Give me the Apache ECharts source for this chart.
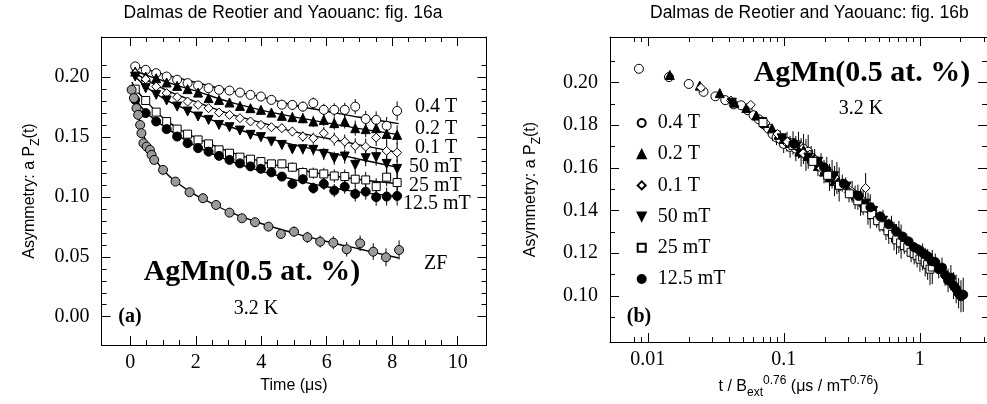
<!DOCTYPE html>
<html><head><meta charset="utf-8">
<script src="https://cdn.jsdelivr.net/npm/echarts@6/dist/echarts.min.js"></script>
<style>html,body{margin:0;padding:0;background:#fff}#c{width:987px;height:404px}</style>
</head><body><div id="c"></div>
<script>
// ---------------- data ----------------
const fieldNames = ['0.4 T', '0.2 T', '0.1 T', '50 mT', '25 mT', '12.5 mT'];
// panel (a): time grid of the field series (µs)
const fieldT = [0.15,0.47,0.79,1.11,1.43,1.75,2.07,2.39,2.71,3.03,3.35,3.67,3.99,4.31,4.63,4.95,5.27,5.59,5.91,6.23,6.55,6.87,7.19,7.51,7.83,8.15];
const y04  = [0.209,0.2061,0.2033,0.2005,0.1978,0.195,0.193,0.1908,0.1894,0.1888,0.1871,0.1852,0.1838,0.181,0.177,0.1768,0.1754,0.1783,0.1727,0.1727,0.1727,0.1754,0.1651,0.1643,0.1593,0.1718];
const y02  = [0.2047,0.2005,0.1991,0.1955,0.1927,0.19,0.1871,0.1825,0.181,0.1788,0.176,0.1741,0.1727,0.1704,0.1677,0.1666,0.1657,0.163,0.1643,0.1616,0.163,0.1574,0.1566,0.1574,0.1526,0.1518];
const y01  = [0.2033,0.1983,0.1921,0.1866,0.1833,0.1796,0.1769,0.1741,0.1704,0.1685,0.1657,0.163,0.1601,0.1582,0.1574,0.1546,0.1504,0.149,0.1532,0.1482,0.1462,0.1426,0.142,0.1495,0.1384,0.137];
const y50  = [0.2005,0.1908,0.1852,0.1805,0.1754,0.1713,0.1671,0.1643,0.1601,0.1582,0.1554,0.1518,0.1499,0.1462,0.1434,0.1398,0.1398,0.1393,0.1359,0.1323,0.1337,0.1267,0.1323,0.1332,0.1276,0.1234];
const y25  = [0.19,0.1805,0.1708,0.1629,0.1566,0.1524,0.1476,0.1443,0.1393,0.1365,0.1332,0.1315,0.1295,0.1276,0.1276,0.1248,0.1204,0.1198,0.1192,0.1175,0.117,0.1148,0.1142,0.1086,0.1165,0.112];
const y125 = [0.181,0.17,0.163,0.1566,0.1504,0.1449,0.1407,0.1378,0.1343,0.1309,0.128,0.1255,0.1235,0.1205,0.117,0.1109,0.1148,0.1073,0.1109,0.1053,0.1086,0.1025,0.1044,0.0998,0.1003,0.1008];
const fieldErr = [0.0008,0.0009,0.001,0.0011,0.0013,0.0014,0.0016,0.0018,0.002,0.0022,0.0024,0.0027,0.003,0.0033,0.0036,0.004,0.0043,0.0047,0.0051,0.0055,0.0059,0.0063,0.0067,0.0071,0.0075,0.008];
// zero field
const zfT = [0.04,0.11,0.19,0.24,0.30,0.34,0.40,0.50,0.60,0.65,0.73,1.00,1.38,1.81,2.22,2.62,3.03,3.41,3.81,4.22,4.60,5.00,5.41,5.80,6.20,6.61,7.02,7.42,7.81,8.21];
const zfY = [0.1894,0.1825,0.1741,0.1685,0.1601,0.1532,0.1449,0.142,0.1393,0.1351,0.1309,0.1226,0.1128,0.1039,0.0989,0.0933,0.0869,0.0822,0.0789,0.0752,0.0691,0.071,0.0663,0.0627,0.0618,0.0563,0.0613,0.0543,0.0496,0.0557];
const zfErr = [0.0005,0.0005,0.0005,0.0006,0.0006,0.0006,0.0007,0.0007,0.0008,0.0008,0.0009,0.001,0.0012,0.0014,0.0017,0.002,0.0023,0.0026,0.003,0.0034,0.0038,0.0042,0.0046,0.005,0.0055,0.006,0.0065,0.007,0.0075,0.008];
// fitted curves
const fitT   = [0.05,0.15,0.5,1,1.5,2,3,4,5,6,7,8.2];
const fit04  = [0.2105,0.209,0.2065,0.2025,0.199,0.1955,0.189,0.1835,0.1765,0.1715,0.1665,0.1612];
const fit02  = [0.2075,0.2055,0.2015,0.197,0.1925,0.1885,0.1795,0.1725,0.1668,0.1618,0.157,0.152];
const fit01  = [0.2065,0.2035,0.1975,0.1905,0.1845,0.1795,0.1695,0.162,0.1545,0.149,0.1435,0.137];
const fit50  = [0.204,0.2005,0.1915,0.1825,0.1755,0.1695,0.159,0.1505,0.1435,0.1375,0.1315,0.1245];
const fit25  = [0.196,0.1905,0.1795,0.166,0.1565,0.1495,0.138,0.1295,0.1235,0.1185,0.1145,0.111];
const fit125 = [0.189,0.182,0.17,0.1595,0.1505,0.1425,0.1305,0.1215,0.1145,0.1085,0.104,0.1003];
const zfFitT = [0.02,0.1,0.2,0.3,0.4,0.6,0.8,1.0,1.4,2,2.5,3,4,5,6,7,8.2];
const zfFitY = [0.191,0.182,0.172,0.162,0.152,0.139,0.13,0.1225,0.1125,0.1015,0.0945,0.0878,0.0778,0.0698,0.0628,0.0565,0.049];
// panel (b): scaled abscissa t / B^0.76 and asymmetry
const bx04  = [0.0086,0.0143,0.0200,0.0257,0.0314,0.0371,0.0428,0.0485,0.0542,0.0599,0.0656,0.0713,0.0770,0.0827,0.0884,0.0941,0.0998,0.1055,0.1112,0.1169,0.1226,0.1283,0.1340,0.1397,0.1454,0.1511];
const bx02  = [0.0145,0.0241,0.0338,0.0434,0.0530,0.0627,0.0723,0.0819,0.0915,0.1012,0.1108,0.1204,0.1301,0.1397,0.1493,0.1590,0.1686,0.1782,0.1878,0.1975,0.2071,0.2167,0.2264,0.2360,0.2456,0.2553];
const bx01  = [0.0246,0.0409,0.0572,0.0735,0.0898,0.1061,0.1224,0.1387,0.1550,0.1713,0.1876,0.2039,0.2202,0.2365,0.2528,0.2691,0.2854,0.3017,0.3180,0.3343,0.3506,0.3669,0.3832,0.3995,0.4158,0.4321];
const bx50  = [0.0415,0.0690,0.0965,0.1240,0.1515,0.1790,0.2065,0.2340,0.2615,0.2890,0.3165,0.3440,0.3715,0.3990,0.4265,0.4540,0.4815,0.5090,0.5365,0.5640,0.5915,0.6190,0.6465,0.6740,0.7015,0.7290];
const bx25  = [0.0703,0.1169,0.1635,0.2101,0.2567,0.3033,0.3499,0.3965,0.4431,0.4897,0.5363,0.5829,0.6295,0.6761,0.7227,0.7693,0.8159,0.8625,0.9091,0.9557,1.0023,1.0489,1.0955,1.1421,1.1887,1.2353];
const bx125 = [0.1187,0.1974,0.2761,0.3548,0.4335,0.5122,0.5909,0.6696,0.7483,0.8270,0.9057,0.9844,1.0631,1.1418,1.2205,1.2992,1.3779,1.4566,1.5353,1.6140,1.6927,1.7714,1.8501,1.9288,2.0075,2.0862];
const by04  = [0.2064,0.2025,0.1993,0.1956,0.1935,0.1917,0.1897,0.1893,0.187,0.1846,0.1827,0.1804,0.1784,0.1758,0.1742,0.1735,0.1712,0.1722,0.1698,0.1716,0.169,0.1706,0.1672,0.1688,0.166,0.1675];
const by02  = [0.2035,0.1985,0.195,0.1905,0.188,0.1845,0.181,0.1785,0.1755,0.1735,0.1716,0.1712,0.1676,0.1683,0.1655,0.1662,0.1645,0.1608,0.1618,0.1582,0.1592,0.1555,0.157,0.1538,0.1552,0.1522];
const by01  = [0.1975,0.1915,0.1895,0.181,0.1758,0.1722,0.1702,0.1668,0.1662,0.1638,0.1598,0.1592,0.1574,0.1556,0.1522,0.1528,0.1512,0.1485,0.1488,0.1461,0.1462,0.1438,0.1445,0.1505,0.1408,0.1396];
const by50  = [0.1905,0.1815,0.1738,0.17,0.1648,0.1628,0.1572,0.156,0.1515,0.1512,0.147,0.1468,0.1425,0.1432,0.1392,0.1398,0.1362,0.1348,0.1352,0.1316,0.1302,0.1312,0.128,0.1265,0.1276,0.1254];
const by25  = [0.1812,0.1705,0.163,0.1565,0.1518,0.1478,0.1445,0.1412,0.1381,0.1352,0.1328,0.1305,0.1288,0.1262,0.1248,0.1236,0.1228,0.1204,0.1198,0.1188,0.1172,0.1182,0.1158,0.1146,0.1125,0.1135];
const by125 = [0.1712,0.1602,0.1525,0.1468,0.1415,0.1372,0.1335,0.1302,0.1278,0.1255,0.1228,0.1215,0.1198,0.1185,0.1162,0.1158,0.1125,0.1132,0.1098,0.1072,0.1085,0.1048,0.1032,0.1012,0.0998,0.1005];
// ticks
const aXMajor = [0,2,4,6,8,10];
const aXMinor = [0.5,1,1.5,2.5,3,3.5,4.5,5,5.5,6.5,7,7.5,8.5,9,9.5];
const aYMajor = [0,0.05,0.1,0.15,0.2];
const aYMinor = [0.01,0.02,0.03,0.04,0.06,0.07,0.08,0.09,0.11,0.12,0.13,0.14,0.16,0.17,0.18,0.19,0.21];
const bXMajor = [0.01,0.1,1];
const bXMinor = [0.008,0.009,0.02,0.03,0.04,0.05,0.06,0.07,0.08,0.09,0.2,0.3,0.4,0.5,0.6,0.7,0.8,0.9,2,3];
const bYMajor = [0.1,0.12,0.14,0.16,0.18,0.2];
const bYMinor = [0.09,0.11,0.13,0.15,0.17,0.19,0.21];

// ---------------- styling ----------------
const SERIF = '"Liberation Serif","Times New Roman",serif';
const SANS = '"Liberation Sans",Arial,sans-serif';
const K = '#000';
const fieldY = [y04, y02, y01, y50, y25, y125];
const fieldFit = [fit04, fit02, fit01, fit50, fit25, fit125];
const fieldBx = [bx04, bx02, bx01, bx50, bx25, bx125];
const fieldBy = [by04, by02, by01, by50, by25, by125];
const mk = [
  {symbol:'circle', color:'#fff', size:9, rot:0},
  {symbol:'triangle', color:'#000', size:9, rot:0},
  {symbol:'diamond', color:'#fff', size:9, rot:0},
  {symbol:'triangle', color:'#000', size:9, rot:180},
  {symbol:'rect', color:'#fff', size:8, rot:0},
  {symbol:'circle', color:'#000', size:9, rot:0}
];

function ax(grid, pos, type, min, max, values, len, showLine, label, extra) {
  const a = {
    type: type, gridIndex: grid, position: pos, min: min, max: max,
    axisLine: {show: showLine, onZero: false, lineStyle: {color: K, width: 1}},
    axisTick: {show: true, inside: true, length: len, customValues: values, lineStyle: {color: K, width: 1}},
    axisLabel: label ? Object.assign({show: true, customValues: values, color: K, fontFamily: SERIF, fontSize: 20}, label) : {show: false},
    splitLine: {show: false}
  };
  if (type === 'log') a.logBase = 10;
  if (extra) Object.assign(a, extra);
  return a;
}
const rich = {
  a: {fontFamily: SANS, fontSize: 16, color: K, lineHeight: 24},
  s: {fontFamily: SANS, fontSize: 12, color: K, lineHeight: 12, verticalAlign: 'bottom'},
  p: {fontFamily: SANS, fontSize: 12, color: K, lineHeight: 12, verticalAlign: 'top'}
};
const aXR = [-0.88, 10.88], aYR = [-0.0236, 0.2335];
const bXR = [0.00527, 3.12], bYR = [0.0783, 0.2213];
const fmt2 = v => v.toFixed(2);

const xAxis = [
  ax(0,'bottom','value',aXR[0],aXR[1],aXMajor,9,true,{margin:8, formatter: v => String(v)},
     {name:'{a|Time (μs)}', nameLocation:'middle', nameGap:29, nameTextStyle:{rich:rich}}),
  ax(0,'bottom','value',aXR[0],aXR[1],aXMinor,5,false,null),
  ax(0,'top','value',aXR[0],aXR[1],aXMajor,9,true,null),
  ax(0,'top','value',aXR[0],aXR[1],aXMinor,5,false,null),
  ax(1,'bottom','log',bXR[0],bXR[1],bXMajor,9,true,{margin:8, formatter: v => String(v)},
     {name:'{a|t / B}{s|ext}{p|0.76}{a| (μs / mT}{p|0.76}{a|)}', nameLocation:'middle', nameGap:29, nameTextStyle:{rich:rich}}),
  ax(1,'bottom','log',bXR[0],bXR[1],bXMinor,5,false,null),
  ax(1,'top','log',bXR[0],bXR[1],bXMajor,9,true,null),
  ax(1,'top','log',bXR[0],bXR[1],bXMinor,5,false,null)
];
const yAxis = [
  ax(0,'left','value',aYR[0],aYR[1],aYMajor,9,true,{margin:12, formatter: fmt2},
     {name:'{a|Asymmetry: a P}{s|Z}{a|(t)}', nameLocation:'middle', nameRotate:90, nameGap:60, nameTextStyle:{rich:rich}}),
  ax(0,'left','value',aYR[0],aYR[1],aYMinor,5,false,null),
  ax(0,'right','value',aYR[0],aYR[1],aYMajor,9,true,null),
  ax(0,'right','value',aYR[0],aYR[1],aYMinor,5,false,null),
  ax(1,'left','value',bYR[0],bYR[1],bYMajor,9,true,{margin:12, formatter: fmt2},
     {name:'{a|Asymmetry: a P}{s|Z}{a|(t)}', nameLocation:'middle', nameRotate:90, nameGap:67, nameTextStyle:{rich:rich}}),
  ax(1,'left','value',bYR[0],bYR[1],bYMinor,5,false,null),
  ax(1,'right','value',bYR[0],bYR[1],bYMajor,9,true,null),
  ax(1,'right','value',bYR[0],bYR[1],bYMinor,5,false,null)
];

function errSeries(ax, rows) {
  return {
    type: 'custom', xAxisIndex: ax, yAxisIndex: ax, z: 1, silent: true, animation: false,
    data: rows,
    renderItem: function (params, api) {
      const x = api.value(0), y = api.value(1), e = api.value(2);
      const p1 = api.coord([x, y - e]), p2 = api.coord([x, y + e]);
      return {type: 'line', shape: {x1: p1[0], y1: p1[1], x2: p2[0], y2: p2[1]},
              style: {stroke: '#000', lineWidth: 1}};
    }
  };
}

const series = [];
// panel (a)
const errA = [];
fieldY.forEach((ys) => ys.forEach((v, i) => errA.push([fieldT[i], v, fieldErr[i]])));
zfY.forEach((v, i) => errA.push([zfT[i], v, zfErr[i]]));
series.push(errSeries(0, errA));
fieldFit.forEach((f, k) => series.push({
  type: 'line', name: 'fit ' + fieldNames[k], xAxisIndex: 0, yAxisIndex: 0, z: 2,
  data: fitT.map((t, i) => [t, f[i]]), smooth: 0.35, showSymbol: false, symbol: 'none',
  lineStyle: {color: '#000', width: 1.4}, silent: true, animation: false
}));
series.push({
  type: 'line', name: 'fit ZF', xAxisIndex: 0, yAxisIndex: 0, z: 2,
  data: zfFitT.map((t, i) => [t, zfFitY[i]]), smooth: 0.35, showSymbol: false, symbol: 'none',
  lineStyle: {color: '#000', width: 1.4}, silent: true, animation: false
});
fieldY.forEach((ys, k) => series.push({
  type: 'scatter', name: 'a ' + fieldNames[k], xAxisIndex: 0, yAxisIndex: 0, z: 3,
  data: fieldT.map((t, i) => [t, ys[i]]),
  symbol: mk[k].symbol, symbolSize: mk[k].size, symbolRotate: mk[k].rot,
  itemStyle: {color: mk[k].color, borderColor: '#000', borderWidth: 1, opacity: 1}, animation: false
}));
series.push({
  type: 'scatter', name: 'a ZF', xAxisIndex: 0, yAxisIndex: 0, z: 3,
  data: zfT.map((t, i) => [t, zfY[i]]), symbol: 'circle', symbolSize: 9,
  itemStyle: {color: '#9a9a9a', borderColor: '#000', borderWidth: 1, opacity: 1}, animation: false
});
// panel (b)
const errB = [];
fieldBy.forEach((ys, k) => ys.forEach((v, i) => errB.push([fieldBx[k][i], v, fieldErr[i]])));
series.push(errSeries(4, errB));
fieldBy.forEach((ys, k) => series.push({
  type: 'scatter', name: fieldNames[k], xAxisIndex: 4, yAxisIndex: 4, z: 3,
  data: fieldBx[k].map((x, i) => [x, ys[i]]),
  symbol: mk[k].symbol, symbolSize: mk[k].size, symbolRotate: mk[k].rot,
  itemStyle: {color: mk[k].color, borderColor: '#000', borderWidth: 1, opacity: 1}, animation: false
}));

function txt(x, y, s, font, align) {
  return {type: 'text', x: x, y: y, silent: true, z: 10,
          style: {text: s, font: font, fill: '#000', align: align || 'center', verticalAlign: 'middle'}};
}
const fLab = '20px ' + SERIF;
const graphic = [
  txt(283, 13, 'Dalmas de Reotier and Yaouanc: fig. 16a', '17.5px ' + SANS),
  txt(650, 13, 'Dalmas de Reotier and Yaouanc: fig. 16b', '17.5px ' + SANS, 'left'),
  txt(415, 106.7, '0.4 T', fLab, 'left'),
  txt(415, 128.3, '0.2 T', fLab, 'left'),
  txt(415, 147.5, '0.1 T', fLab, 'left'),
  txt(409, 166.7, '50 mT', fLab, 'left'),
  txt(409, 185.8, '25 mT', fLab, 'left'),
  txt(403, 204, '12.5 mT', fLab, 'left'),
  txt(424, 263.3, 'ZF', fLab, 'left'),
  txt(252, 272, 'AgMn(0.5 at. %)', 'bold 30px ' + SERIF),
  txt(256, 308.5, '3.2 K', fLab),
  txt(130, 317, '(a)', 'bold 20px ' + SERIF),
  txt(862, 73.5, 'AgMn(0.5 at. %)', 'bold 30px ' + SERIF),
  txt(861, 108.5, '3.2 K', fLab),
  txt(639, 317, '(b)', 'bold 20px ' + SERIF)
];

const legendData = fieldNames.map((n, k) => k === 3 ? {name: n, icon: 'path://M0,0L10,0L5,10Z'} : {name: n});

const chart = echarts.init(document.getElementById('c'), null, {renderer: 'canvas'});
chart.setOption({
  backgroundColor: '#fff',
  animation: false,
  grid: [
    {left: 101.5, top: 37, width: 385, height: 308, containLabel: false},
    {left: 610, top: 37, width: 382, height: 308, containLabel: false}
  ],
  xAxis: xAxis,
  yAxis: yAxis,
  legend: {
    data: legendData, orient: 'vertical', left: 636.7, top: 113, padding: 0,
    itemWidth: 8, itemHeight: 8, itemGap: 11.2,
    selectedMode: false, symbolKeepAspect: true,
    textStyle: {fontFamily: SERIF, fontSize: 20, color: '#000', lineHeight: 20, padding: [0, 0, 0, 7]}
  },
  series: series,
  graphic: graphic
});
</script></body></html>
